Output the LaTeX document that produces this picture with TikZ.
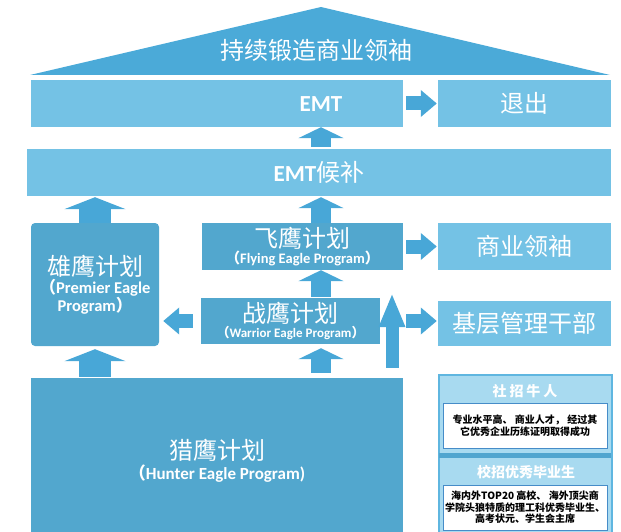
\documentclass[tikz,border=0pt]{standalone}
\usepackage{fontspec}
\setmainfont{Carlito}
\newfontfamily\cjk{Noto Sans CJK SC}
\usetikzlibrary{arrows.meta,positioning}
\definecolor{roofblue}{RGB}{75,170,216}
\definecolor{lightblue}{RGB}{116,194,229}
\definecolor{midblue}{RGB}{82,167,206}
\definecolor{arrowblue}{RGB}{72,167,215}
\definecolor{panelfill}{RGB}{168,218,240}
\definecolor{panelline}{RGB}{95,182,224}
\definecolor{sepblue}{RGB}{80,165,207}
\definecolor{boxline}{RGB}{70,140,200}
\newcommand\cnbig{\cjk\fontsize{24}{26}\selectfont}
\newcommand\cnhead{\cjk\bfseries\fontsize{14}{16}\selectfont}
\newcommand\cnsmall{\cjk\bfseries\fontsize{10}{11.5}\selectfont}
\newcommand\enbold{\rmfamily\bfseries\fontsize{23}{26}\selectfont}
\tikzset{
    box/.style={inner sep=0pt, align=center, text=white},
    lightbox/.style={box, fill=lightblue},
    midbox/.style={box, fill=midblue},
    infobox/.style={draw=boxline, line width=1pt, fill=white, inner sep=0pt,
        align=center, font=\cnsmall, text=black}
}

\begin{document}
\begin{tikzpicture}[
    x=1pt, y=-1pt,
    rightarrow/.style={draw=arrowblue, line width=14pt, -{Triangle[length=16pt, width=26pt]}},
    uparrow/.style={draw=arrowblue, line width=20pt, -{Triangle[length=11pt, width=45pt]}},
    wideup/.style={draw=arrowblue, line width=32pt, -{Triangle[length=12pt, width=61pt]}},
    tallarrow/.style={draw=arrowblue, line width=13pt, -{Triangle[length=34pt, width=24pt]}}
]
    \useasboundingbox (0,0) rectangle (621,532);
    \clip (0,0) rectangle (621,532);

    % Roof
    \fill[roofblue] (30,75) -- (321,7) -- (610,75) -- cycle;
    \node[box, font=\cnbig] (roof) at (316,50) {持续锻造商业领袖};

    % Boxes
    \node[lightbox, minimum width=372, minimum height=47] (emt) at (217,103.5) {};
    \node[box, font=\enbold] (emtlabel) at (321,104) {EMT};
    \node[lightbox, minimum width=173, minimum height=47, font=\cnbig] (tuichu) at (524.5,103.5) {退出};
    \node[lightbox, minimum width=584, minimum height=47] (emtb) at (319,172.5) {{\enbold EMT}{\cnbig 候补}};
    \node[midbox, rounded corners=4pt, minimum width=128, minimum height=123] (xiong) at (95,284.5)
        {{\cnbig 雄鹰计划}\\[1pt]
         {\bfseries\fontsize{16.5}{21}\selectfont{\cjk （}Premier Eagle}\\
         {\bfseries\fontsize{16.5}{21}\selectfont Program{\cjk ）}}};
    \node[midbox, minimum width=201, minimum height=47] (fei) at (302.5,246.5)
        {{\cnbig 飞鹰计划}\\
         {\bfseries\fontsize{14.5}{17}\selectfont{\cjk （}Flying Eagle Program{\cjk ）}}};
    \node[midbox, minimum width=179, minimum height=46] (zhan) at (290.5,321)
        {{\cnbig 战鹰计划}\\
         {\bfseries\fontsize{13}{15}\selectfont{\cjk （}Warrior Eagle Program{\cjk ）}}};
    \node[lightbox, minimum width=173, minimum height=47, font=\cnbig] (shangye) at (524.5,246.5) {商业领袖};
    \node[lightbox, minimum width=173, minimum height=45, font=\cnbig] (jiceng) at (524.5,323.5) {基层管理干部};
    \node[midbox, minimum width=372, minimum height=166] (lie) at (217,461)
        {{\cnbig 猎鹰计划}\\[2pt]
         {\bfseries\fontsize{17}{20}\selectfont{\cjk （}Hunter Eagle Program)}};

    % Arrows
    \coordinate (col) at (321,0);
    \coordinate (talltip) at (392,293);
    \draw[rightarrow, shorten <=3pt, shorten >=1pt] (emt.east) -- (tuichu.west);
    \draw[rightarrow, shorten <=3pt, shorten >=1pt] (fei.east) -- (shangye.west);
    \draw[rightarrow, shorten <=26pt, shorten >=1pt] (zhan.east) -- (zhan.east -| jiceng.west);
    \draw[rightarrow, shorten <=8pt, shorten >=4pt] (zhan.west) -- (zhan.west -| xiong.east);
    \draw[uparrow, shorten <=2pt] (emtb.north -| col) -- (emt.south -| col);
    \draw[uparrow, shorten >=1pt] (fei.north -| col) -- (emtb.south -| col);
    \draw[uparrow, shorten <=1pt] (zhan.north -| col) -- (fei.south -| col);
    \draw[uparrow, shorten <=5pt, shorten >=4pt] (lie.north -| col) -- (zhan.south -| col);
    \draw[wideup, shorten >=1pt] (xiong.north) -- (xiong.north |- emtb.south);
    \draw[wideup, shorten <=1pt, shorten >=3pt] (lie.north -| xiong) -- (xiong.south);
    \draw[tallarrow, shorten <=10pt] (lie.north -| talltip) -- (talltip);

    % Side panel
    \node[draw=panelline, line width=2pt, fill=panelfill, minimum width=173, minimum height=170, inner sep=0pt] (panel) at (525,460) {};
    \fill[sepblue] (439,453) rectangle (611,458);
    \node[box, font=\cnhead] (shezhao) at (525,391) {社\hspace{3pt}招\hspace{3pt}牛\hspace{3pt}人};
    \node[infobox, minimum width=164, minimum height=45] (shebox) at (525,425.5)
        {专业水平高、 商业人才， 经过其\\它优秀企业历练证明取得成功};
    \node[box, font=\cnhead] (xiaozhao) at (526,472) {校招优秀毕业生};
    \node[infobox, minimum width=164, minimum height=45] (xiaobox) at (525,507.5)
        {海内外TOP20 高校、 海外顶尖商\\学院头狼特质的理工科优秀毕业生、\\高考状元、学生会主席};
\end{tikzpicture}
\end{document}
